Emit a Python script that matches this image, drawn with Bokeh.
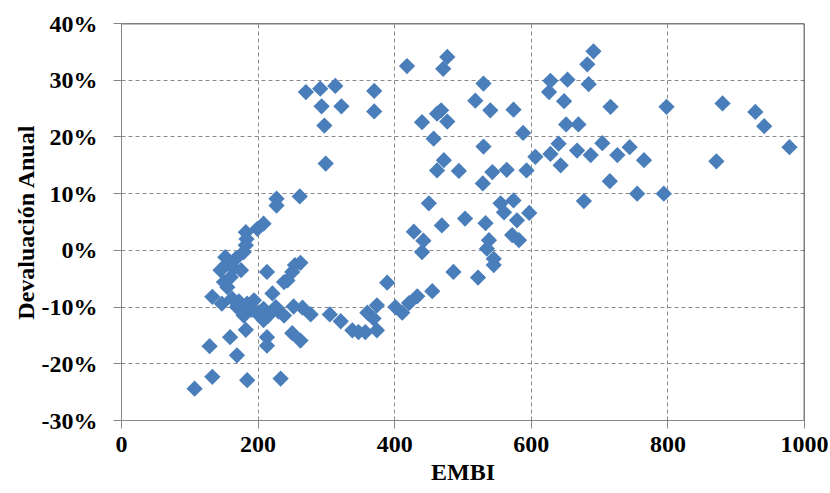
import numpy as np
from bokeh.plotting import figure
from bokeh.models import Range1d, FixedTicker, PrintfTickFormatter, Span
from bokeh.embed import file_html
from bokeh.resources import INLINE

# EMBI (x) and annual devaluation in % (y)
embi = [
    270, 291, 313, 293, 322, 297, 370, 370, 299, 418, 477, 471, 440, 462, 468, 477,
    457, 472, 462, 494, 227, 227, 261, 450, 428, 469, 503,
    530, 518, 540, 574, 588, 530, 543, 564, 593, 529, 606, 628, 643, 640, 667, 687,
    704, 726, 744, 765, 715, 677, 755, 628, 653, 626, 648, 684, 691, 682, 716, 651,
    669, 555, 574, 560, 579, 597, 533,
    798, 880, 928, 941, 978, 871, 794,
    538, 535, 545, 545, 572, 582, 486, 522,
    442, 440, 455, 389, 433, 421, 401, 411, 374, 360, 369, 374, 357, 338, 347, 321,
    305, 277, 265, 252, 238, 262, 250, 238, 250, 262, 233,
    107, 133, 184, 129, 169, 159, 182, 213, 213, 133, 147, 169, 179, 194, 208, 208,
    221, 226, 213, 243, 254, 162, 184, 152, 167, 179, 145, 164, 175, 150, 160, 155,
    182, 199, 208, 182, 183, 198, 215, 230, 172, 190, 155,
]
devaluacion = [
    27.9, 28.5, 29.0, 25.4, 25.4, 22.0, 28.1, 24.5, 15.3, 32.5, 34.1, 32.0, 22.6, 24.1, 24.7, 22.7,
    19.7, 15.9, 14.1, 14.0, 9.1, 7.9, 9.5, 8.3, 3.3, 4.4, 5.6,
    29.4, 26.4, 24.7, 24.8, 20.7, 18.3, 13.8, 14.2, 14.1, 11.8, 16.5, 17.0, 15.0, 18.8, 17.6, 16.8,
    18.9, 16.8, 18.2, 15.9, 12.2, 8.7, 10.0, 29.9, 30.1, 27.9, 26.3, 29.3, 35.1, 32.8, 25.3, 22.2,
    22.2, 8.3, 8.8, 6.7, 5.3, 6.6, 4.8,
    25.3, 25.9, 24.4, 21.9, 18.2, 15.7, 10.0,
    1.8, 0.3, -1.5, -2.6, 2.7, 1.8, -3.8, -4.8,
    1.7, -0.3, -7.2, -5.7, -8.1, -9.3, -10.0, -11.0, -9.7, -11.0, -12.0, -14.1, -14.4, -14.1, -14.4, -12.5,
    -11.3, -11.3, -10.1, -9.9, -11.5, -2.2, -3.8, -5.6, -14.6, -15.9, -22.6,
    -24.4, -22.3, -22.9, -16.9, -18.5, -15.3, -14.0, -15.3, -16.8, -8.2, -9.4, -10.0, -11.5, -8.8, -10.3, -12.3,
    -7.6, -10.0, -3.8, -5.3, -2.6, -8.5, -9.4, -1.2, -1.5, -0.3, -3.5, -3.2, -3.5, -5.6, -4.7, -2.3,
    3.2, 3.8, 4.7, 0.9, 2.0, -11.0, -11.5, -10.8, -9.0, -10.5, -6.5,
]

x_ticks = [0, 200, 400, 600, 800, 1000]
y_ticks = [-30, -20, -10, 0, 10, 20, 30, 40]
x_grid = [200, 400, 600, 800]
y_grid = [-20, -10, 0, 10, 20, 30]
x_title = "EMBI"
y_title = "Devaluación Anual"

FONT = "Liberation Serif"
AXIS_GRAY = "#868686"

p = figure(width=830, height=493, output_backend="svg", toolbar_location=None,
           x_range=Range1d(0, 1000), y_range=Range1d(-30, 40),
           min_border_left=121, min_border_right=26, min_border_top=23,
           min_border_bottom=73)
p.outline_line_color = None
p.background_fill_color = "white"
p.border_fill_color = "white"

p.scatter(embi, devaluacion, marker="square", angle=np.pi / 4, size=11.5,
          fill_color="#4A7EBB", line_color=None)

for g, ticks in ((p.xgrid, x_grid), (p.ygrid, y_grid)):
    g.ticker = FixedTicker(ticks=ticks)
    g.grid_line_color = "#8a8a8a"
    g.grid_line_dash = "4 3"
    g.grid_line_width = 1

for ax in (p.xaxis, p.yaxis):
    ax.axis_line_color = AXIS_GRAY
    ax.major_tick_line_color = AXIS_GRAY
    ax.major_tick_in = 0
    ax.major_tick_out = 8
    ax.minor_tick_line_color = None
    ax.major_label_text_font = FONT
    ax.major_label_text_font_style = "bold"
    ax.major_label_text_font_size = "24px"
    ax.major_label_text_color = "black"
    ax.axis_label_text_font = FONT
    ax.axis_label_text_font_style = "bold"
    ax.axis_label_text_font_size = "24px"
    ax.axis_label_text_color = "black"

p.xaxis.ticker = FixedTicker(ticks=x_ticks)
p.yaxis.ticker = FixedTicker(ticks=y_ticks)
p.yaxis.formatter = PrintfTickFormatter(format="%d%%")
p.xaxis.axis_label = x_title
p.yaxis.axis_label = y_title
p.xaxis.major_label_standoff = 8
p.xaxis.axis_label_standoff = 4
p.yaxis.major_label_standoff = 16
p.yaxis.axis_label_standoff = 0

p.add_layout(Span(location=1000, dimension="height", line_color="black", line_width=1.5))
p.add_layout(Span(location=40, dimension="width", line_color="black", line_width=1.5))

open("out.html", "w").write(file_html(p, INLINE))
